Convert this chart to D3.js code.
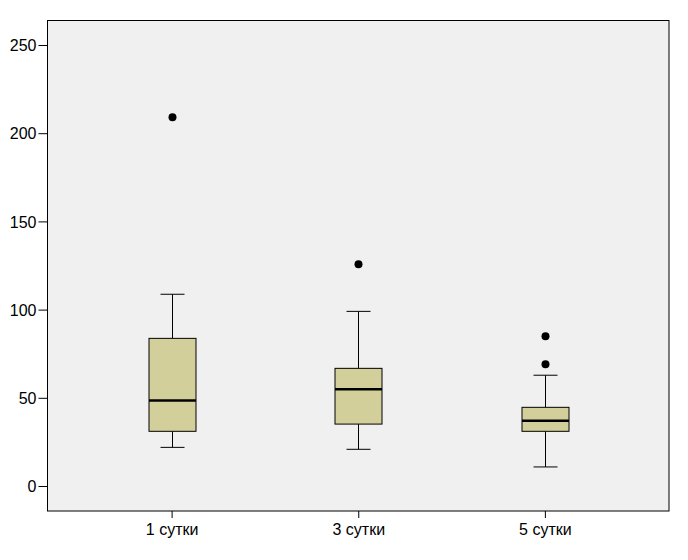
<!DOCTYPE html>
<html><head><meta charset="utf-8">
<script src="https://cdn.jsdelivr.net/npm/d3@7"></script>
<style>body{margin:0;background:#fff}svg{display:block}text{font-family:"Liberation Sans",Arial,sans-serif}</style>
</head><body><svg id="c" width="688" height="560"></svg>
<script>
const categories = ["1 сутки", "3 сутки", "5 сутки"];
const whiskerLow  = [21.9, 20.8, 10.8];
const q1          = [31.0, 35.1, 31.0];
const median      = [48.4, 54.8, 37.0];
const q3          = [83.7, 66.7, 44.6];
const whiskerHigh = [108.7, 99.0, 62.8];
const outliers    = [[209], [125.7], [84.9, 69.0]];
const yTicks      = [0, 50, 100, 150, 200, 250];

const svg = d3.select("#c");
const L = 47.5, R = 669, T = 20.5, B = 511;
const y = d3.scaleLinear().domain([0, 250]).range([486, 45]);
const x = d3.scalePoint().domain(categories).range([L, R]).padding(0.665);

svg.append("rect").attr("x", L).attr("y", T).attr("width", R - L).attr("height", B - T)
  .attr("fill", "#f0f0f0").attr("stroke", "#000").attr("stroke-width", 1);

const yAxis = svg.append("g").attr("transform", `translate(${L},0)`)
  .call(d3.axisLeft(y).tickValues(yTicks).tickSize(9).tickPadding(2).tickFormat(d3.format("d")));
yAxis.select(".domain").remove();
yAxis.selectAll("text").attr("font-size", 16).attr("fill", "#000").attr("dy", "0.35em");
yAxis.selectAll("line").attr("stroke", "#000");

const xAxis = svg.append("g").attr("transform", `translate(0,${B})`)
  .call(d3.axisBottom(x).tickSize(7).tickPadding(6));
xAxis.select(".domain").remove();
xAxis.selectAll("text").attr("font-size", 16).attr("fill", "#000");
xAxis.selectAll("line").attr("stroke", "#000");

const bw = 47, cw = 24;
categories.forEach((c, i) => {
  const cx = Math.round(x(c)) + 0.5;
  const g = svg.append("g");
  g.append("line").attr("x1", cx).attr("x2", cx).attr("y1", y(whiskerHigh[i])).attr("y2", y(q3[i])).attr("stroke", "#000");
  g.append("line").attr("x1", cx).attr("x2", cx).attr("y1", y(q1[i])).attr("y2", y(whiskerLow[i])).attr("stroke", "#000");
  g.append("line").attr("x1", cx - cw / 2).attr("x2", cx + cw / 2).attr("y1", y(whiskerHigh[i])).attr("y2", y(whiskerHigh[i])).attr("stroke", "#000");
  g.append("line").attr("x1", cx - cw / 2).attr("x2", cx + cw / 2).attr("y1", y(whiskerLow[i])).attr("y2", y(whiskerLow[i])).attr("stroke", "#000");
  g.append("rect").attr("x", cx - bw / 2).attr("width", bw).attr("y", y(q3[i])).attr("height", y(q1[i]) - y(q3[i]))
    .attr("fill", "#d3cf9b").attr("stroke", "#000");
  g.append("line").attr("x1", cx - bw / 2).attr("x2", cx + bw / 2).attr("y1", y(median[i])).attr("y2", y(median[i]))
    .attr("stroke", "#000").attr("stroke-width", 2.5);
  outliers[i].forEach(v => {
    g.append("circle").attr("cx", cx).attr("cy", y(v)).attr("r", 4).attr("fill", "#000");
  });
});
</script></body></html>
